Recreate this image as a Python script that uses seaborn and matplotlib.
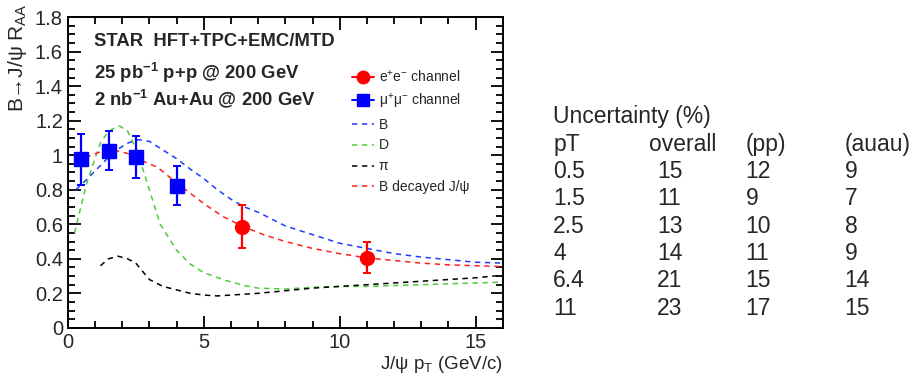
import numpy as np
import pandas as pd
import seaborn as sns
import matplotlib.pyplot as plt
import matplotlib.ticker as mtick
from matplotlib.lines import Line2D

# measured points
ee_pt = [6.4, 11.0]
ee_raa = [0.586, 0.403]
ee_lo = [0.465, 0.316]
ee_hi = [0.71, 0.50]

mumu_pt = [0.5, 1.5, 2.5, 4.0]
mumu_raa = [0.976, 1.026, 0.988, 0.82]
mumu_lo = [0.83, 0.914, 0.866, 0.71]
mumu_hi = [1.12, 1.14, 1.11, 0.94]

# model curves
b_pt = [0.3, 0.7, 1.2, 1.7, 2.2, 2.6, 3.0, 3.5, 4.0, 4.5, 5.0, 5.5, 6.0, 6.5,
        7.0, 8.0, 9.0, 10.0, 11.0, 12.0, 13.0, 14.0, 15.0, 16.0]
b_raa = [0.80, 0.86, 0.94, 1.02, 1.07, 1.09, 1.08, 1.03, 0.98, 0.92, 0.865, 0.80,
         0.745, 0.70, 0.67, 0.59, 0.54, 0.49, 0.46, 0.43, 0.41, 0.395, 0.38, 0.375]

d_pt = [0.25, 0.45, 0.7, 1.0, 1.2, 1.5, 1.9, 2.2, 2.5, 2.8, 3.0, 3.4, 4.0, 4.5,
        5.0, 5.8, 6.5, 7.0, 8.0, 9.0, 10.0, 11.0, 12.0, 13.0, 14.0, 15.0, 16.0]
d_raa = [0.55, 0.68, 0.84, 0.98, 1.07, 1.14, 1.17, 1.14, 1.04, 0.90, 0.80, 0.60,
         0.45, 0.37, 0.32, 0.275, 0.245, 0.23, 0.225, 0.235, 0.24, 0.24, 0.245,
         0.25, 0.255, 0.26, 0.265]

pi_pt = [1.2, 1.5, 1.85, 2.2, 2.5, 3.0, 3.5, 4.0, 4.5, 5.0, 5.5, 6.0, 7.0, 8.0,
         9.0, 10.0, 11.0, 12.0, 13.0, 14.0, 15.0, 16.0]
pi_raa = [0.36, 0.40, 0.415, 0.40, 0.375, 0.28, 0.24, 0.22, 0.20, 0.19, 0.185,
          0.19, 0.20, 0.215, 0.23, 0.24, 0.25, 0.26, 0.27, 0.28, 0.29, 0.305]

bj_pt = [0.3, 0.7, 1.2, 1.7, 2.2, 2.7, 3.3, 4.0, 4.5, 5.0, 5.7, 6.4, 7.2, 8.0,
         9.0, 10.0, 11.0, 12.0, 13.0, 14.0, 15.0, 16.0]
bj_raa = [0.97, 0.99, 1.02, 1.03, 1.01, 0.97, 0.93, 0.84, 0.78, 0.72, 0.645,
          0.59, 0.54, 0.50, 0.46, 0.43, 0.405, 0.39, 0.375, 0.365, 0.36, 0.355]

# uncertainty table
table_title = "Uncertainty (%)"
table_header = ["pT", "overall", "(pp)", "(auau)"]
table_pt = ["0.5", "1.5", "2.5", "4", "6.4", "11"]
unc_overall = [15, 11, 13, 14, 21, 23]
unc_pp = [12, 9, 10, 11, 15, 17]
unc_auau = [9, 7, 8, 9, 14, 15]

sns.set_style("ticks")
plt.rcParams["font.family"] = ["Liberation Sans", "DejaVu Sans"]
plt.rcParams["mathtext.fontset"] = "custom"
plt.rcParams["mathtext.rm"] = "Liberation Sans"
plt.rcParams["mathtext.it"] = "Liberation Sans:italic"
plt.rcParams["mathtext.bf"] = "Liberation Sans:bold"


def main():
    fig = plt.figure(figsize=(9.16, 3.88), dpi=100)
    ax = fig.add_axes([0.074, 0.155, 0.475, 0.801])

    dash = (3.5, 3)
    curves = [
        (b_pt, b_raa, "#1f3bff", "B"),
        (d_pt, d_raa, "#4ecb3a", "D"),
        (pi_pt, pi_raa, "black", "π"),
        (bj_pt, bj_raa, "#ff2020", "B decayed J/ψ"),
    ]
    handles = []
    for xs, ys, col, lab in curves:
        df = pd.DataFrame({"pt": xs, "raa": ys})
        sns.lineplot(data=df, x="pt", y="raa", color=col, lw=1.1,
                     ax=ax, sort=False, estimator=None)
        ax.lines[-1].set_dashes(dash)
        handles.append(Line2D([], [], color=col, lw=1.1, dashes=dash, label=lab))

    ee_err = [np.subtract(ee_raa, ee_lo), np.subtract(ee_hi, ee_raa)]
    mm_err = [np.subtract(mumu_raa, mumu_lo), np.subtract(mumu_hi, mumu_raa)]
    ax.errorbar(ee_pt, ee_raa, yerr=ee_err, fmt="o", color="#ff0000", ms=10,
                elinewidth=1.6, capsize=3, capthick=1.4, zorder=5)
    ax.errorbar(mumu_pt, mumu_raa, yerr=mm_err, fmt="s", color="#0000ff", ms=10,
                elinewidth=1.6, capsize=3, capthick=1.4, zorder=5)

    h_ee = Line2D([], [], color="#ff0000", marker="o", ms=9, lw=1.4,
                  label=r"e$^{+}$e$^{-}$ channel")
    h_mm = Line2D([], [], color="#0000ff", marker="s", ms=9, lw=1.4,
                  label=r"μ$^{+}$μ$^{-}$ channel")
    ax.legend(handles=[h_ee, h_mm] + handles, loc="upper left",
              bbox_to_anchor=(0.64, 0.852), frameon=False, fontsize=10,
              handlelength=1.6, handletextpad=0.35, labelspacing=0.5,
              borderaxespad=0)

    ax.text(0.06, 0.922, "STAR  HFT+TPC+EMC/MTD", transform=ax.transAxes,
            fontsize=13.3, fontweight="bold", va="center")
    ax.text(0.06, 0.82, r"25 pb$^{\mathbf{-1}}$ p+p @ 200 GeV",
            transform=ax.transAxes, fontsize=13.3, fontweight="bold", va="center")
    ax.text(0.06, 0.736, r"2 nb$^{\mathbf{-1}}$ Au+Au @ 200 GeV",
            transform=ax.transAxes, fontsize=13.3, fontweight="bold", va="center")

    ax.set_xlim(0, 16)
    ax.set_ylim(0, 1.8)
    ax.xaxis.set_major_locator(mtick.MultipleLocator(5))
    ax.xaxis.set_minor_locator(mtick.MultipleLocator(1))
    ax.yaxis.set_major_locator(mtick.MultipleLocator(0.2))
    ax.yaxis.set_minor_locator(mtick.MultipleLocator(0.05))
    ax.yaxis.set_major_formatter(mtick.FuncFormatter(lambda v, p: f"{v:g}"))
    ax.tick_params(which="both", direction="in", top=True, right=True,
                   width=1.3, labelsize=14.5, color="black")
    ax.tick_params(which="major", length=9)
    ax.tick_params(which="minor", length=5)
    for s in ax.spines.values():
        s.set_linewidth(1.4)
        s.set_color("black")

    ax.set_xlabel(r"J/ψ p$_{\rm T}$ (GeV/c)", fontsize=13.5, ha="right",
                  x=1.0, labelpad=1.5)
    ax.set_ylabel(r"B→J/ψ R$_{\rm AA}$", fontsize=15,
                  ha="right", y=1.045, labelpad=4)

    # uncertainty table on the right
    fs = 16.5
    col_x = [0.604, 0.708, 0.814, 0.922]
    num_x = [0.604, 0.717, 0.814, 0.922]
    y0 = 1 - 117 / 388
    dy = 27.3 / 388
    fig.text(col_x[0], y0, table_title, fontsize=fs, va="center")
    for cx, h in zip(col_x, table_header):
        fig.text(cx, y0 - dy, h, fontsize=fs, va="center")
    for i, row in enumerate(zip(table_pt, unc_overall, unc_pp, unc_auau)):
        yy = y0 - (i + 2) * dy
        for cx, v in zip(num_x, row):
            fig.text(cx, yy, str(v), fontsize=fs, va="center")

    fig.savefig("out.png", dpi=100)


if __name__ == "__main__":
    main()
